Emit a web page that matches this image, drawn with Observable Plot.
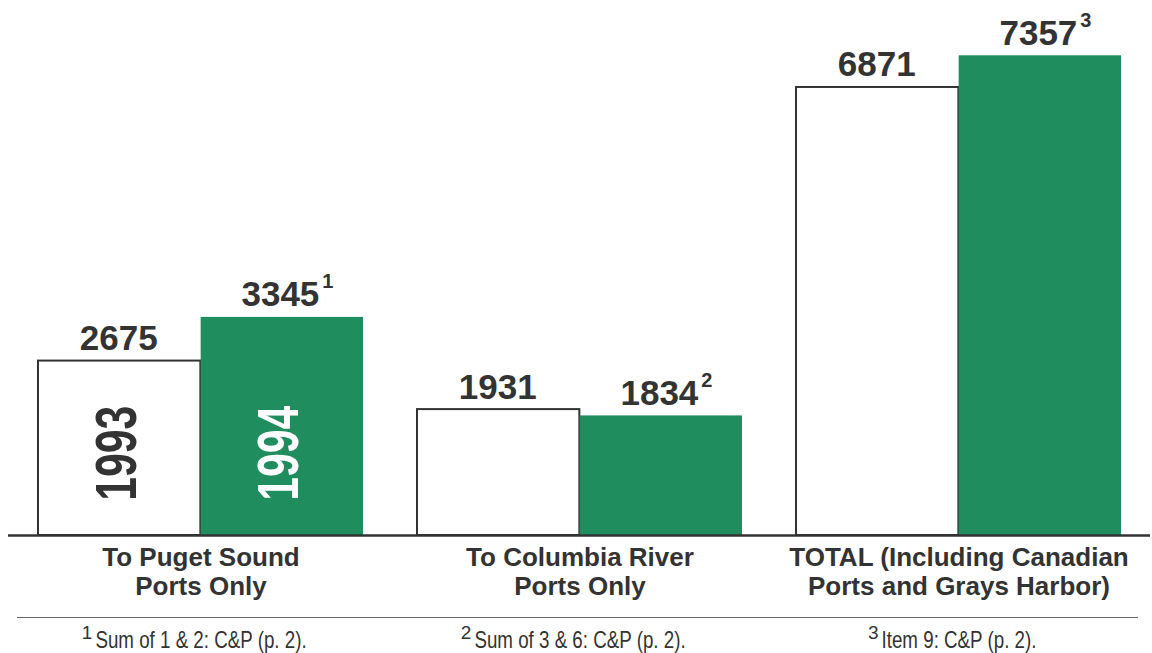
<!DOCTYPE html>
<html><head><meta charset="utf-8">
<script src="https://cdn.jsdelivr.net/npm/d3@7"></script>
<script src="https://cdn.jsdelivr.net/npm/@observablehq/plot@0.6"></script>
<style>html,body{margin:0;padding:0;background:#fff;}</style>
</head><body><div id="chart"></div>
<script>
const categories = [
  "To Puget Sound\nPorts Only",
  "To Columbia River\nPorts Only",
  "TOTAL (Including Canadian\nPorts and Grays Harbor)"
];
const years = ["1993", "1994"];
const values1993 = [2675, 1931, 6871];
const values1994 = [3345, 1834, 7357];
const superscripts1994 = ["1", "2", "3"];
const footnoteMarks = ["1", "2", "3"];
const footnotes = [
  "Sum of 1 & 2: C&P (p. 2).",
  "Sum of 3 & 6: C&P (p. 2).",
  "Item 9: C&P (p. 2)."
];

const rows1993 = categories.map((c, i) => ({category: c, year: years[0], value: values1993[i]}));
const rows1994 = categories.map((c, i) => ({category: c, year: years[1], value: values1994[i], sup: superscripts1994[i]}));
const yearLabelRows = years.map((y) => ({category: categories[0], year: y, mid: values1993[0] / 2}));
const footRows = categories.map((c, i) => ({category: c, mark: footnoteMarks[i], text: footnotes[i]}));

const xOpts = {type: "band", domain: categories, range: [37, 1121], paddingInner: 0.1425, paddingOuter: 0};
const bw = Plot.scale({x: xOpts}).bandwidth;
const half = bw / 2;

const sans = "'Liberation Sans', Arial, Helvetica, sans-serif";
const footFont = 24;
const footSqueeze = 0.78;
const ctx = document.createElement("canvas").getContext("2d");
ctx.font = `${footFont}px ${sans}`;
footRows.forEach(d => d.w = ctx.measureText(d.text).width * footSqueeze);

const ink = "#333333";
const green = "#1f8d5e";

const chart = Plot.plot({
  width: 1152,
  height: 653,
  marginTop: 0,
  marginBottom: 118,
  marginLeft: 8,
  marginRight: 2,
  x: {...xOpts, axis: null},
  y: {domain: [0, 8205], axis: null},
  style: {fontFamily: sans, background: "#fff"},
  marks: [
    Plot.rectY(rows1993, {x: "category", y: "value", insetRight: half, fill: "#fff", stroke: ink, strokeWidth: 2}),
    Plot.rectY(rows1994, {x: "category", y: "value", insetLeft: half, fill: green}),
    Plot.ruleY([0], {stroke: ink, strokeWidth: 2.5}),
    Plot.ruleY([0], {dy: 82, insetLeft: 9, insetRight: 12, stroke: "#666", strokeWidth: 1.2}),
    Plot.text(rows1993, {x: "category", y: "value", text: d => String(d.value), dx: -half / 2 - 1, dy: -11, lineAnchor: "bottom", fontSize: 35, fontWeight: "bold", fontFamily: sans, fill: ink}),
    Plot.text(rows1994, {x: "category", y: "value", text: d => String(d.value), dx: half / 2 + 37, dy: -11, textAnchor: "end", lineAnchor: "bottom", fontSize: 35, fontWeight: "bold", fontFamily: sans, fill: ink}),
    Plot.text(rows1994, {x: "category", y: "value", text: "sup", dx: half / 2 + 40, dy: -29, textAnchor: "start", lineAnchor: "bottom", fontSize: 20, fontWeight: "bold", fontFamily: sans, fill: ink}),
    Plot.text(yearLabelRows.filter(d => d.year === years[0]), {x: "category", y: "mid", text: "year", dx: -half / 2 - 2, dy: 5, rotate: -90, fontSize: 57, fontWeight: "bold", fontFamily: sans, fill: ink, ariaDescription: "year-label"}),
    Plot.text(yearLabelRows.filter(d => d.year === years[1]), {x: "category", y: "mid", text: "year", dx: half / 2 - 3, dy: 5, rotate: -90, fontSize: 57, fontWeight: "bold", fontFamily: sans, fill: "#fff", ariaDescription: "year-label"}),
    Plot.text(categories, {x: d => d, y: () => 0, text: d => d, dy: 9, lineAnchor: "top", lineHeight: 1.14, fontSize: 26, fontWeight: "bold", fontFamily: sans, fill: ink}),
    Plot.text(footRows, {x: "category", y: () => 0, text: "text", dy: 112, lineAnchor: "bottom", fontSize: footFont, fontFamily: sans, fill: ink, ariaDescription: "footnote"}),
    Plot.text(footRows, {x: "category", y: () => 0, text: "mark", dy: 103, textAnchor: "end", lineAnchor: "bottom", fontSize: 19, fontFamily: sans, fill: ink, ariaDescription: "footnote-mark"})
  ]
});
// condense the year labels and footnotes (styling only)
d3.select(chart).selectAll('g[aria-description="year-label"] text')
  .attr("textLength", 95).attr("lengthAdjust", "spacingAndGlyphs");
d3.select(chart).selectAll('g[aria-description="footnote"] text')
  .each(function (_, i) { this.setAttribute("textLength", footRows[i].w); this.setAttribute("lengthAdjust", "spacingAndGlyphs"); });
d3.select(chart).selectAll('g[aria-description="footnote-mark"] text')
  .each(function (_, i) {
    const w = footRows[i].w;
    const t = this.getAttribute("transform") || "";
    this.setAttribute("transform", t + ` translate(${-w / 2 - 3},0)`);
  });
document.getElementById("chart").appendChild(chart);
</script>
</body></html>
